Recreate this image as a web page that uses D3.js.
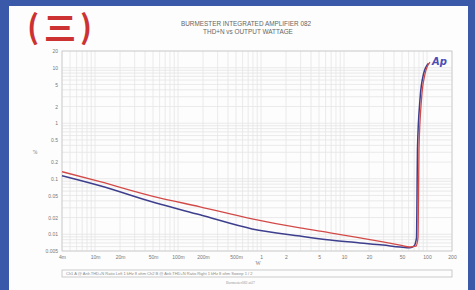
<!DOCTYPE html>
<html>
<head>
<meta charset="utf-8">
<script src="https://cdn.jsdelivr.net/npm/d3@7"></script>
<style>
  body { margin: 0; background: #3a59a8; overflow: hidden; }
  svg { display: block; }
</style>
</head>
<body>
<svg id="chart"></svg>
<script>
// axis ticks (watts / percent)
const xTicks = [0.004, 0.01, 0.02, 0.05, 0.1, 0.2, 0.5, 1, 2, 5, 10, 20, 50, 100, 200];
const xTickLabels = ["4m", "10m", "20m", "50m", "100m", "200m", "500m", "1", "2", "5", "10", "20", "50", "100", "200"];
const yTicks = [20, 10, 5, 2, 1, 0.5, 0.2, 0.1, 0.05, 0.02, 0.01, 0.005];
const yTickLabels = ["20", "10", "5", "2", "1", "0.5", "0.2", "0.1", "0.05", "0.02", "0.01", "0.005"];

// left channel (red)
const redWatts = [0.004, 0.0115, 0.053, 0.184, 0.78, 2.95, 6.8, 15.6, 29.4, 47.2, 62.3, 73.6, 77.8, 78.9, 80.0, 85.8, 94.4, 108.6];
const redThd   = [0.134, 0.0885, 0.0473, 0.0313, 0.019, 0.013, 0.0106, 0.0086, 0.0073, 0.0064, 0.0059, 0.0061, 0.0086, 0.0418, 0.335, 2.69, 7.62, 12.6];

// right channel (blue)
const blueWatts = [0.004, 0.0115, 0.053, 0.184, 0.78, 2.95, 6.8, 15.6, 29.4, 47.2, 62.3, 69.6, 74.7, 75.7, 76.7, 82.3, 90.6, 104.2];
const blueThd   = [0.1135, 0.0748, 0.0369, 0.0224, 0.0125, 0.0093, 0.0079, 0.007, 0.0064, 0.0059, 0.0057, 0.0061, 0.0086, 0.0418, 0.335, 2.69, 7.62, 12.05];

class ThdChart {
    constructor(id, width, height) {
        this.width = width;
        this.height = height;
        this.svg = d3.select(id).attr("width", width).attr("height", height);
        this.left = 62;
        this.right = 452;
        this.top = 51;
        this.bottom = 251;
    }

    draw() {
        const svg = this.svg;

        // photo frame
        svg.append("rect").attr("x", 0).attr("y", 0).attr("width", this.width).attr("height", this.height).attr("fill", "#3a59a8");
        svg.append("rect").attr("x", 9).attr("y", 6).attr("width", 459).attr("height", 290).attr("fill", "#fdfdfd");

        // (三) badge
        const badge = svg.append("g")
            .attr("font-family", "'Noto Sans CJK SC', 'Noto Sans', sans-serif")
            .attr("font-weight", "bold")
            .attr("fill", "#cc3232");
        badge.append("text").attr("x", 27).attr("y", 39).attr("font-size", 32).text("(");
        badge.append("text").attr("x", 44).attr("y", 40).attr("font-size", 32).text("三");
        badge.append("text").attr("x", 80).attr("y", 39).attr("font-size", 32).text(")");

        const title = svg.append("g")
            .attr("font-family", "'Liberation Sans', Arial, sans-serif")
            .attr("font-size", 6.4)
            .attr("fill", "#666")
            .attr("text-anchor", "middle");
        title.append("text").attr("x", 246).attr("y", 26).text("BURMESTER INTEGRATED AMPLIFIER 082");
        title.append("text").attr("x", 248).attr("y", 34).text("THD+N vs OUTPUT WATTAGE");

        this.xScale = d3.scaleLog().domain([0.004, 200]).range([this.left, this.right]);
        this.yScale = d3.scaleLog().domain([0.005, 20]).range([this.bottom, this.top]);

        // grid: every 1..9 step of each decade
        const minor = (lo, hi) => {
            const out = [];
            for (let e = Math.floor(Math.log10(lo)); e <= Math.ceil(Math.log10(hi)); e++) {
                for (let m = 1; m < 10; m++) {
                    const v = m * Math.pow(10, e);
                    if (v >= lo * 0.999 && v <= hi * 1.001) out.push(v);
                }
            }
            return out;
        };
        const grid = svg.append("g").attr("stroke", "#e4e4e4").attr("stroke-width", 0.8);
        grid.selectAll(".vx").data(minor(0.004, 200)).enter()
            .append("line")
            .attr("x1", d => this.xScale(d)).attr("x2", d => this.xScale(d))
            .attr("y1", this.top).attr("y2", this.bottom);
        grid.selectAll(".hy").data(minor(0.005, 20)).enter()
            .append("line")
            .attr("y1", d => this.yScale(d)).attr("y2", d => this.yScale(d))
            .attr("x1", this.left).attr("x2", this.right);

        svg.append("rect")
            .attr("x", this.left).attr("y", this.top)
            .attr("width", this.right - this.left).attr("height", this.bottom - this.top)
            .attr("fill", "none").attr("stroke", "#c8c8c8").attr("stroke-width", 0.8);

        // axes
        const xAxis = d3.axisBottom(this.xScale).tickValues(xTicks)
            .tickFormat((d, i) => xTickLabels[i]).tickSize(0).tickPadding(4);
        const gx = svg.append("g").attr("transform", `translate(0, ${this.bottom})`).call(xAxis);
        const yAxis = d3.axisLeft(this.yScale).tickValues(yTicks)
            .tickFormat((d, i) => yTickLabels[i]).tickSize(0).tickPadding(4);
        const gy = svg.append("g").attr("transform", `translate(${this.left}, 0)`).call(yAxis);
        [gx, gy].forEach(g => {
            g.select(".domain").remove();
            g.selectAll("text").attr("font-size", 5).attr("fill", "#777")
                .attr("font-family", "'Liberation Sans', Arial, sans-serif");
        });

        svg.append("text").attr("x", 258).attr("y", 265).attr("text-anchor", "middle")
            .attr("font-size", 5.5).attr("fill", "#777").text("W");
        svg.append("text").attr("x", 35).attr("y", 154).attr("text-anchor", "middle")
            .attr("font-size", 5.5).attr("fill", "#777").text("%");

        // traces
        const line = d3.line()
            .x(d => this.xScale(d[0]))
            .y(d => this.yScale(d[1]))
            .curve(d3.curveMonotoneX);
        const blue = blueWatts.map((w, i) => [w, blueThd[i]]);
        const red = redWatts.map((w, i) => [w, redThd[i]]);
        svg.append("path").datum(blue).attr("d", line)
            .attr("fill", "none").attr("stroke", "#3d3f8e").attr("stroke-width", 1.5);
        svg.append("path").datum(red).attr("d", line)
            .attr("fill", "none").attr("stroke", "#d24a48").attr("stroke-width", 1.3);

        // Ap logo
        svg.append("text").attr("x", 432).attr("y", 65)
            .attr("font-family", "'DejaVu Sans', sans-serif")
            .attr("font-style", "italic").attr("font-weight", "bold")
            .attr("font-size", 10).attr("fill", "#4a4db5").text("Ap");

        // legend box
        svg.append("rect").attr("x", this.left).attr("y", 270).attr("width", this.right - this.left).attr("height", 7)
            .attr("fill", "none").attr("stroke", "#b5b5b5").attr("stroke-width", 0.7);
        svg.append("text").attr("x", this.left + 4).attr("y", 275.3)
            .attr("font-size", 4).attr("fill", "#8a8a8a")
            .attr("font-family", "'Liberation Sans', Arial, sans-serif")
            .text("Ch1 A @ Anlr.THD+N Ratio  Left  1 kHz  8 ohm    Ch2 B @ Anlr.THD+N Ratio  Right  1 kHz  8 ohm    Sweep 1 / 2");
        svg.append("text").attr("x", 226).attr("y", 284)
            .attr("font-size", 3.8).attr("fill", "#999")
            .text("Burmester082.at27");
    }
}

const chart = new ThdChart("#chart", 475, 290);
chart.draw();
</script>
</body>
</html>
